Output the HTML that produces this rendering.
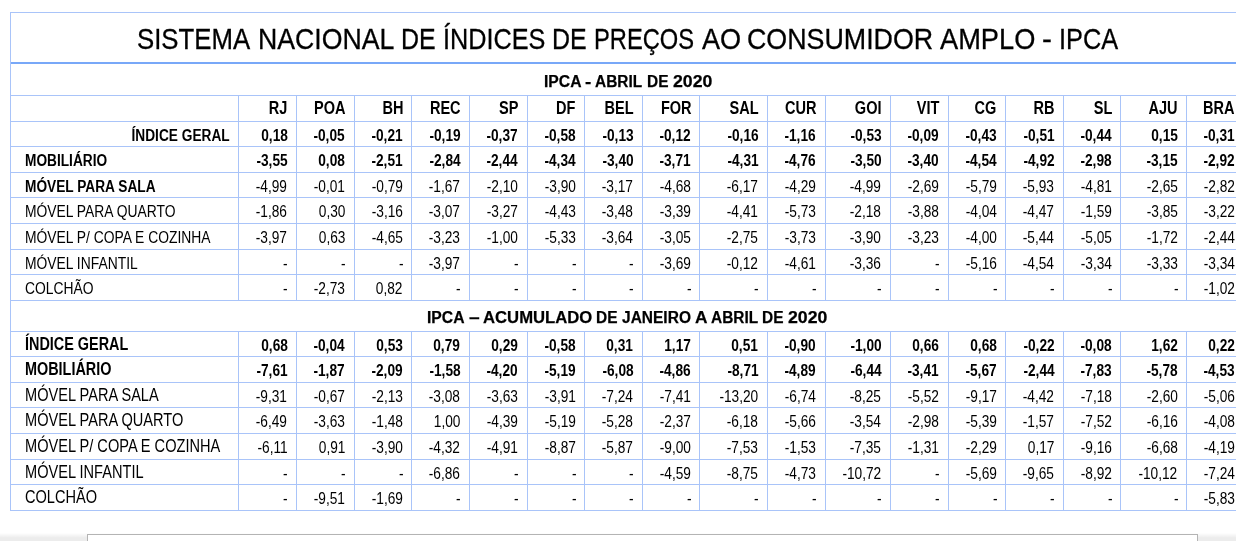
<!DOCTYPE html>
<html lang="pt-BR"><head><meta charset="utf-8"><title>IPCA</title>
<style>
html,body{margin:0;padding:0;background:#fff;}
body{width:1236px;height:541px;overflow:hidden;position:relative;font-family:"Liberation Sans",sans-serif;color:#000;}
.h,.v{position:absolute;background:#a9c4f9;}
.h{height:1px;left:10px;right:0;}
.v{width:1px;}
.t{position:absolute;white-space:nowrap;line-height:20px;height:20px;}
.l{transform-origin:0 50%;}
.r{transform-origin:100% 50%;text-align:right;}
.c{transform-origin:50% 50%;text-align:center;}
.n{font-size:16.67px;transform:scaleX(0.832);}
.nv{font-size:16.67px;transform:scaleX(0.822);}
.b{font-size:17.4px;font-weight:bold;transform:scaleX(0.787);}
.hb{font-size:18.3px;font-weight:bold;transform:scaleX(0.795);}
.n2{font-size:17.5px;transform:scaleX(0.833);}
.b2{font-size:18.0px;font-weight:bold;transform:scaleX(0.8005);}
.ws{position:absolute;left:0;width:1236px;height:0;white-space:nowrap;line-height:1;}
.ws span{position:absolute;top:0;transform-origin:0 50%;display:block;}
.title{font-size:29.5px;-webkit-text-stroke:0.3px #000;}
.sh{font-size:17.4px;font-weight:bold;-webkit-text-stroke:0.25px #000;}
</style></head><body>
<div class="h" style="top:12px"></div>
<div class="h" style="top:62px;height:2px;background:#78a8f8"></div>
<div class="h" style="top:95px"></div>
<div class="h" style="top:121px"></div>
<div class="h" style="top:146px"></div>
<div class="h" style="top:172px"></div>
<div class="h" style="top:197px"></div>
<div class="h" style="top:223px"></div>
<div class="h" style="top:249px"></div>
<div class="h" style="top:274px"></div>
<div class="h" style="top:300px"></div>
<div class="h" style="top:331px"></div>
<div class="h" style="top:356px"></div>
<div class="h" style="top:382px"></div>
<div class="h" style="top:407px"></div>
<div class="h" style="top:433px"></div>
<div class="h" style="top:459px"></div>
<div class="h" style="top:484px"></div>
<div class="h" style="top:510px"></div>
<div class="v" style="left:10px;top:12px;height:499px"></div>
<div class="v" style="left:238px;top:95px;height:205px"></div>
<div class="v" style="left:238px;top:331px;height:179px"></div>
<div class="v" style="left:296px;top:95px;height:205px"></div>
<div class="v" style="left:296px;top:331px;height:179px"></div>
<div class="v" style="left:354px;top:95px;height:205px"></div>
<div class="v" style="left:354px;top:331px;height:179px"></div>
<div class="v" style="left:411px;top:95px;height:205px"></div>
<div class="v" style="left:411px;top:331px;height:179px"></div>
<div class="v" style="left:469px;top:95px;height:205px"></div>
<div class="v" style="left:469px;top:331px;height:179px"></div>
<div class="v" style="left:527px;top:95px;height:205px"></div>
<div class="v" style="left:527px;top:331px;height:179px"></div>
<div class="v" style="left:584px;top:95px;height:205px"></div>
<div class="v" style="left:584px;top:331px;height:179px"></div>
<div class="v" style="left:642px;top:95px;height:205px"></div>
<div class="v" style="left:642px;top:331px;height:179px"></div>
<div class="v" style="left:699px;top:95px;height:205px"></div>
<div class="v" style="left:699px;top:331px;height:179px"></div>
<div class="v" style="left:767px;top:95px;height:205px"></div>
<div class="v" style="left:767px;top:331px;height:179px"></div>
<div class="v" style="left:825px;top:95px;height:205px"></div>
<div class="v" style="left:825px;top:331px;height:179px"></div>
<div class="v" style="left:890px;top:95px;height:205px"></div>
<div class="v" style="left:890px;top:331px;height:179px"></div>
<div class="v" style="left:948px;top:95px;height:205px"></div>
<div class="v" style="left:948px;top:331px;height:179px"></div>
<div class="v" style="left:1005px;top:95px;height:205px"></div>
<div class="v" style="left:1005px;top:331px;height:179px"></div>
<div class="v" style="left:1063px;top:95px;height:205px"></div>
<div class="v" style="left:1063px;top:331px;height:179px"></div>
<div class="v" style="left:1120px;top:95px;height:205px"></div>
<div class="v" style="left:1120px;top:331px;height:179px"></div>
<div class="v" style="left:1186px;top:95px;height:205px"></div>
<div class="v" style="left:1186px;top:331px;height:179px"></div>
<div style="position:absolute;left:0;top:533px;width:1236px;height:8px;background:linear-gradient(#fff,#ececec 60%)"></div>
<div style="position:absolute;left:87px;top:534px;width:1111px;height:10px;background:#fff;border:1px solid #b4b4b4;box-sizing:border-box"></div>
<div class="ws title" style="top:24px"><span style="left:137.34px;transform:scaleX(0.874)">SISTEMA</span> <span style="left:257.76px;transform:scaleX(0.9039)">NACIONAL</span> <span style="left:400.94px;transform:scaleX(0.8449)">DE</span> <span style="left:442.65px;transform:scaleX(0.8556)">ÍNDICES</span> <span style="left:552.25px;transform:scaleX(0.8449)">DE</span> <span style="left:594.49px;transform:scaleX(0.8033)">PREÇOS</span> <span style="left:701.8px;transform:scaleX(0.9175)">AO</span> <span style="left:747.37px;transform:scaleX(0.9088)">CONSUMIDOR</span> <span style="left:939.96px;transform:scaleX(0.9233)">AMPLO</span> <span style="left:1042.09px;transform:scaleX(1.0062)">-</span> <span style="left:1059.23px;transform:scaleX(0.8583)">IPCA</span></div>
<div class="ws sh" style="top:73px"><span style="left:543.98px;transform:scaleX(0.9025)">IPCA</span> <span style="left:585.26px;transform:scaleX(1.0878)">-</span> <span style="left:595.4px;transform:scaleX(0.8868)">ABRIL</span> <span style="left:646.81px;transform:scaleX(0.8879)">DE</span> <span style="left:672.75px;transform:scaleX(1.0177)">2020</span></div>
<div class="ws sh" style="top:309px"><span style="left:427.48px;transform:scaleX(0.9027)">IPCA</span> <span style="left:469.3px;transform:scaleX(1.1)">–</span> <span style="left:482.59px;transform:scaleX(0.9592)">ACUMULADO</span> <span style="left:596.19px;transform:scaleX(0.8881)">DE</span> <span style="left:621.95px;transform:scaleX(0.8919)">JANEIRO</span> <span style="left:694.77px;transform:scaleX(0.9952)">A</span> <span style="left:710.87px;transform:scaleX(0.887)">ABRIL</span> <span style="left:762.3px;transform:scaleX(0.8881)">DE</span> <span style="left:788.24px;transform:scaleX(1.0179)">2020</span></div>
<div class="t r hb" style="right:948.28px;top:98px">RJ</div>
<div class="t r hb" style="right:890.65px;top:98px">POA</div>
<div class="t r hb" style="right:833.03px;top:98px">BH</div>
<div class="t r hb" style="right:775.4px;top:98px">REC</div>
<div class="t r hb" style="right:717.77px;top:98px">SP</div>
<div class="t r hb" style="right:660.15px;top:98px">DF</div>
<div class="t r hb" style="right:602.52px;top:98px">BEL</div>
<div class="t r hb" style="right:544.9px;top:98px">FOR</div>
<div class="t r hb" style="right:477.37px;top:98px">SAL</div>
<div class="t r hb" style="right:419.75px;top:98px">CUR</div>
<div class="t r hb" style="right:354.36px;top:98px">GOI</div>
<div class="t r hb" style="right:296.73px;top:98px">VIT</div>
<div class="t r hb" style="right:239.11px;top:98px">CG</div>
<div class="t r hb" style="right:181.48px;top:98px">RB</div>
<div class="t r hb" style="right:123.86px;top:98px">SL</div>
<div class="t r hb" style="right:58.13px;top:98px">AJU</div>
<div class="t r hb" style="right:1.0px;top:98px">BRA</div>
<div class="t r b" style="right:1006px;top:125px">ÍNDICE GERAL</div>
<div class="t r b" style="right:948.58px;top:125px">0,18</div>
<div class="t r b" style="right:890.95px;top:125px">-0,05</div>
<div class="t r b" style="right:833.33px;top:125px">-0,21</div>
<div class="t r b" style="right:775.7px;top:125px">-0,19</div>
<div class="t r b" style="right:718.08px;top:125px">-0,37</div>
<div class="t r b" style="right:660.45px;top:125px">-0,58</div>
<div class="t r b" style="right:602.83px;top:125px">-0,13</div>
<div class="t r b" style="right:545.2px;top:125px">-0,12</div>
<div class="t r b" style="right:477.67px;top:125px">-0,16</div>
<div class="t r b" style="right:420.05px;top:125px">-1,16</div>
<div class="t r b" style="right:354.66px;top:125px">-0,53</div>
<div class="t r b" style="right:297.03px;top:125px">-0,09</div>
<div class="t r b" style="right:239.41px;top:125px">-0,43</div>
<div class="t r b" style="right:181.78px;top:125px">-0,51</div>
<div class="t r b" style="right:124.16px;top:125px">-0,44</div>
<div class="t r b" style="right:58.43px;top:125px">0,15</div>
<div class="t r b" style="right:1.3px;top:125px">-0,31</div>
<div class="t l b" style="left:25px;top:150px">MOBILIÁRIO</div>
<div class="t r b" style="right:948.58px;top:150px">-3,55</div>
<div class="t r b" style="right:890.95px;top:150px">0,08</div>
<div class="t r b" style="right:833.33px;top:150px">-2,51</div>
<div class="t r b" style="right:775.7px;top:150px">-2,84</div>
<div class="t r b" style="right:718.08px;top:150px">-2,44</div>
<div class="t r b" style="right:660.45px;top:150px">-4,34</div>
<div class="t r b" style="right:602.83px;top:150px">-3,40</div>
<div class="t r b" style="right:545.2px;top:150px">-3,71</div>
<div class="t r b" style="right:477.67px;top:150px">-4,31</div>
<div class="t r b" style="right:420.05px;top:150px">-4,76</div>
<div class="t r b" style="right:354.66px;top:150px">-3,50</div>
<div class="t r b" style="right:297.03px;top:150px">-3,40</div>
<div class="t r b" style="right:239.41px;top:150px">-4,54</div>
<div class="t r b" style="right:181.78px;top:150px">-4,92</div>
<div class="t r b" style="right:124.16px;top:150px">-2,98</div>
<div class="t r b" style="right:58.43px;top:150px">-3,15</div>
<div class="t r b" style="right:1.3px;top:150px">-2,92</div>
<div class="t l b" style="left:25px;top:176px">MÓVEL PARA SALA</div>
<div class="t r nv" style="right:948.58px;top:177px">-4,99</div>
<div class="t r nv" style="right:890.95px;top:177px">-0,01</div>
<div class="t r nv" style="right:833.33px;top:177px">-0,79</div>
<div class="t r nv" style="right:775.7px;top:177px">-1,67</div>
<div class="t r nv" style="right:718.08px;top:177px">-2,10</div>
<div class="t r nv" style="right:660.45px;top:177px">-3,90</div>
<div class="t r nv" style="right:602.83px;top:177px">-3,17</div>
<div class="t r nv" style="right:545.2px;top:177px">-4,68</div>
<div class="t r nv" style="right:477.67px;top:177px">-6,17</div>
<div class="t r nv" style="right:420.05px;top:177px">-4,29</div>
<div class="t r nv" style="right:354.66px;top:177px">-4,99</div>
<div class="t r nv" style="right:297.03px;top:177px">-2,69</div>
<div class="t r nv" style="right:239.41px;top:177px">-5,79</div>
<div class="t r nv" style="right:181.78px;top:177px">-5,93</div>
<div class="t r nv" style="right:124.16px;top:177px">-4,81</div>
<div class="t r nv" style="right:58.43px;top:177px">-2,65</div>
<div class="t r nv" style="right:1.3px;top:177px">-2,82</div>
<div class="t l n" style="left:25px;top:202px">MÓVEL PARA QUARTO</div>
<div class="t r nv" style="right:948.58px;top:202px">-1,86</div>
<div class="t r nv" style="right:890.95px;top:202px">0,30</div>
<div class="t r nv" style="right:833.33px;top:202px">-3,16</div>
<div class="t r nv" style="right:775.7px;top:202px">-3,07</div>
<div class="t r nv" style="right:718.08px;top:202px">-3,27</div>
<div class="t r nv" style="right:660.45px;top:202px">-4,43</div>
<div class="t r nv" style="right:602.83px;top:202px">-3,48</div>
<div class="t r nv" style="right:545.2px;top:202px">-3,39</div>
<div class="t r nv" style="right:477.67px;top:202px">-4,41</div>
<div class="t r nv" style="right:420.05px;top:202px">-5,73</div>
<div class="t r nv" style="right:354.66px;top:202px">-2,18</div>
<div class="t r nv" style="right:297.03px;top:202px">-3,88</div>
<div class="t r nv" style="right:239.41px;top:202px">-4,04</div>
<div class="t r nv" style="right:181.78px;top:202px">-4,47</div>
<div class="t r nv" style="right:124.16px;top:202px">-1,59</div>
<div class="t r nv" style="right:58.43px;top:202px">-3,85</div>
<div class="t r nv" style="right:1.3px;top:202px">-3,22</div>
<div class="t l n" style="left:25px;top:228px">MÓVEL P/ COPA E COZINHA</div>
<div class="t r nv" style="right:948.58px;top:228px">-3,97</div>
<div class="t r nv" style="right:890.95px;top:228px">0,63</div>
<div class="t r nv" style="right:833.33px;top:228px">-4,65</div>
<div class="t r nv" style="right:775.7px;top:228px">-3,23</div>
<div class="t r nv" style="right:718.08px;top:228px">-1,00</div>
<div class="t r nv" style="right:660.45px;top:228px">-5,33</div>
<div class="t r nv" style="right:602.83px;top:228px">-3,64</div>
<div class="t r nv" style="right:545.2px;top:228px">-3,05</div>
<div class="t r nv" style="right:477.67px;top:228px">-2,75</div>
<div class="t r nv" style="right:420.05px;top:228px">-3,73</div>
<div class="t r nv" style="right:354.66px;top:228px">-3,90</div>
<div class="t r nv" style="right:297.03px;top:228px">-3,23</div>
<div class="t r nv" style="right:239.41px;top:228px">-4,00</div>
<div class="t r nv" style="right:181.78px;top:228px">-5,44</div>
<div class="t r nv" style="right:124.16px;top:228px">-5,05</div>
<div class="t r nv" style="right:58.43px;top:228px">-1,72</div>
<div class="t r nv" style="right:1.3px;top:228px">-2,44</div>
<div class="t l n" style="left:25px;top:254px">MÓVEL INFANTIL</div>
<div class="t r nv" style="right:948.08px;top:254px">-</div>
<div class="t r nv" style="right:890.45px;top:254px">-</div>
<div class="t r nv" style="right:832.83px;top:254px">-</div>
<div class="t r nv" style="right:775.7px;top:254px">-3,97</div>
<div class="t r nv" style="right:717.58px;top:254px">-</div>
<div class="t r nv" style="right:659.95px;top:254px">-</div>
<div class="t r nv" style="right:602.33px;top:254px">-</div>
<div class="t r nv" style="right:545.2px;top:254px">-3,69</div>
<div class="t r nv" style="right:477.67px;top:254px">-0,12</div>
<div class="t r nv" style="right:420.05px;top:254px">-4,61</div>
<div class="t r nv" style="right:354.66px;top:254px">-3,36</div>
<div class="t r nv" style="right:296.53px;top:254px">-</div>
<div class="t r nv" style="right:239.41px;top:254px">-5,16</div>
<div class="t r nv" style="right:181.78px;top:254px">-4,54</div>
<div class="t r nv" style="right:124.16px;top:254px">-3,34</div>
<div class="t r nv" style="right:58.43px;top:254px">-3,33</div>
<div class="t r nv" style="right:1.3px;top:254px">-3,34</div>
<div class="t l n" style="left:25px;top:279px">COLCHÃO</div>
<div class="t r nv" style="right:948.08px;top:279px">-</div>
<div class="t r nv" style="right:890.95px;top:279px">-2,73</div>
<div class="t r nv" style="right:833.33px;top:279px">0,82</div>
<div class="t r nv" style="right:775.2px;top:279px">-</div>
<div class="t r nv" style="right:717.58px;top:279px">-</div>
<div class="t r nv" style="right:659.95px;top:279px">-</div>
<div class="t r nv" style="right:602.33px;top:279px">-</div>
<div class="t r nv" style="right:544.7px;top:279px">-</div>
<div class="t r nv" style="right:477.17px;top:279px">-</div>
<div class="t r nv" style="right:419.55px;top:279px">-</div>
<div class="t r nv" style="right:354.16px;top:279px">-</div>
<div class="t r nv" style="right:296.53px;top:279px">-</div>
<div class="t r nv" style="right:238.91px;top:279px">-</div>
<div class="t r nv" style="right:181.28px;top:279px">-</div>
<div class="t r nv" style="right:123.66px;top:279px">-</div>
<div class="t r nv" style="right:57.93px;top:279px">-</div>
<div class="t r nv" style="right:1.3px;top:279px">-1,02</div>
<div class="t l b2" style="left:25px;top:334px">ÍNDICE GERAL</div>
<div class="t r b" style="right:948.58px;top:335px">0,68</div>
<div class="t r b" style="right:890.95px;top:335px">-0,04</div>
<div class="t r b" style="right:833.33px;top:335px">0,53</div>
<div class="t r b" style="right:775.7px;top:335px">0,79</div>
<div class="t r b" style="right:718.08px;top:335px">0,29</div>
<div class="t r b" style="right:660.45px;top:335px">-0,58</div>
<div class="t r b" style="right:602.83px;top:335px">0,31</div>
<div class="t r b" style="right:545.2px;top:335px">1,17</div>
<div class="t r b" style="right:477.67px;top:335px">0,51</div>
<div class="t r b" style="right:420.05px;top:335px">-0,90</div>
<div class="t r b" style="right:354.66px;top:335px">-1,00</div>
<div class="t r b" style="right:297.03px;top:335px">0,66</div>
<div class="t r b" style="right:239.41px;top:335px">0,68</div>
<div class="t r b" style="right:181.78px;top:335px">-0,22</div>
<div class="t r b" style="right:124.16px;top:335px">-0,08</div>
<div class="t r b" style="right:58.43px;top:335px">1,62</div>
<div class="t r b" style="right:1.3px;top:335px">0,22</div>
<div class="t l b2" style="left:25px;top:359px">MOBILIÁRIO</div>
<div class="t r b" style="right:948.58px;top:360px">-7,61</div>
<div class="t r b" style="right:890.95px;top:360px">-1,87</div>
<div class="t r b" style="right:833.33px;top:360px">-2,09</div>
<div class="t r b" style="right:775.7px;top:360px">-1,58</div>
<div class="t r b" style="right:718.08px;top:360px">-4,20</div>
<div class="t r b" style="right:660.45px;top:360px">-5,19</div>
<div class="t r b" style="right:602.83px;top:360px">-6,08</div>
<div class="t r b" style="right:545.2px;top:360px">-4,86</div>
<div class="t r b" style="right:477.67px;top:360px">-8,71</div>
<div class="t r b" style="right:420.05px;top:360px">-4,89</div>
<div class="t r b" style="right:354.66px;top:360px">-6,44</div>
<div class="t r b" style="right:297.03px;top:360px">-3,41</div>
<div class="t r b" style="right:239.41px;top:360px">-5,67</div>
<div class="t r b" style="right:181.78px;top:360px">-2,44</div>
<div class="t r b" style="right:124.16px;top:360px">-7,83</div>
<div class="t r b" style="right:58.43px;top:360px">-5,78</div>
<div class="t r b" style="right:1.3px;top:360px">-4,53</div>
<div class="t l n2" style="left:25px;top:385px">MÓVEL PARA SALA</div>
<div class="t r nv" style="right:948.58px;top:387px">-9,31</div>
<div class="t r nv" style="right:890.95px;top:387px">-0,67</div>
<div class="t r nv" style="right:833.33px;top:387px">-2,13</div>
<div class="t r nv" style="right:775.7px;top:387px">-3,08</div>
<div class="t r nv" style="right:718.08px;top:387px">-3,63</div>
<div class="t r nv" style="right:660.45px;top:387px">-3,91</div>
<div class="t r nv" style="right:602.83px;top:387px">-7,24</div>
<div class="t r nv" style="right:545.2px;top:387px">-7,41</div>
<div class="t r nv" style="right:477.67px;top:387px">-13,20</div>
<div class="t r nv" style="right:420.05px;top:387px">-6,74</div>
<div class="t r nv" style="right:354.66px;top:387px">-8,25</div>
<div class="t r nv" style="right:297.03px;top:387px">-5,52</div>
<div class="t r nv" style="right:239.41px;top:387px">-9,17</div>
<div class="t r nv" style="right:181.78px;top:387px">-4,42</div>
<div class="t r nv" style="right:124.16px;top:387px">-7,18</div>
<div class="t r nv" style="right:58.43px;top:387px">-2,60</div>
<div class="t r nv" style="right:1.3px;top:387px">-5,06</div>
<div class="t l n2" style="left:25px;top:410px">MÓVEL PARA QUARTO</div>
<div class="t r nv" style="right:948.58px;top:412px">-6,49</div>
<div class="t r nv" style="right:890.95px;top:412px">-3,63</div>
<div class="t r nv" style="right:833.33px;top:412px">-1,48</div>
<div class="t r nv" style="right:775.7px;top:412px">1,00</div>
<div class="t r nv" style="right:718.08px;top:412px">-4,39</div>
<div class="t r nv" style="right:660.45px;top:412px">-5,19</div>
<div class="t r nv" style="right:602.83px;top:412px">-5,28</div>
<div class="t r nv" style="right:545.2px;top:412px">-2,37</div>
<div class="t r nv" style="right:477.67px;top:412px">-6,18</div>
<div class="t r nv" style="right:420.05px;top:412px">-5,66</div>
<div class="t r nv" style="right:354.66px;top:412px">-3,54</div>
<div class="t r nv" style="right:297.03px;top:412px">-2,98</div>
<div class="t r nv" style="right:239.41px;top:412px">-5,39</div>
<div class="t r nv" style="right:181.78px;top:412px">-1,57</div>
<div class="t r nv" style="right:124.16px;top:412px">-7,52</div>
<div class="t r nv" style="right:58.43px;top:412px">-6,16</div>
<div class="t r nv" style="right:1.3px;top:412px">-4,08</div>
<div class="t l n2" style="left:25px;top:436px">MÓVEL P/ COPA E COZINHA</div>
<div class="t r nv" style="right:948.58px;top:438px">-6,11</div>
<div class="t r nv" style="right:890.95px;top:438px">0,91</div>
<div class="t r nv" style="right:833.33px;top:438px">-3,90</div>
<div class="t r nv" style="right:775.7px;top:438px">-4,32</div>
<div class="t r nv" style="right:718.08px;top:438px">-4,91</div>
<div class="t r nv" style="right:660.45px;top:438px">-8,87</div>
<div class="t r nv" style="right:602.83px;top:438px">-5,87</div>
<div class="t r nv" style="right:545.2px;top:438px">-9,00</div>
<div class="t r nv" style="right:477.67px;top:438px">-7,53</div>
<div class="t r nv" style="right:420.05px;top:438px">-1,53</div>
<div class="t r nv" style="right:354.66px;top:438px">-7,35</div>
<div class="t r nv" style="right:297.03px;top:438px">-1,31</div>
<div class="t r nv" style="right:239.41px;top:438px">-2,29</div>
<div class="t r nv" style="right:181.78px;top:438px">0,17</div>
<div class="t r nv" style="right:124.16px;top:438px">-9,16</div>
<div class="t r nv" style="right:58.43px;top:438px">-6,68</div>
<div class="t r nv" style="right:1.3px;top:438px">-4,19</div>
<div class="t l n2" style="left:25px;top:462px">MÓVEL INFANTIL</div>
<div class="t r nv" style="right:948.08px;top:464px">-</div>
<div class="t r nv" style="right:890.45px;top:464px">-</div>
<div class="t r nv" style="right:832.83px;top:464px">-</div>
<div class="t r nv" style="right:775.7px;top:464px">-6,86</div>
<div class="t r nv" style="right:717.58px;top:464px">-</div>
<div class="t r nv" style="right:659.95px;top:464px">-</div>
<div class="t r nv" style="right:602.33px;top:464px">-</div>
<div class="t r nv" style="right:545.2px;top:464px">-4,59</div>
<div class="t r nv" style="right:477.67px;top:464px">-8,75</div>
<div class="t r nv" style="right:420.05px;top:464px">-4,73</div>
<div class="t r nv" style="right:354.66px;top:464px">-10,72</div>
<div class="t r nv" style="right:296.53px;top:464px">-</div>
<div class="t r nv" style="right:239.41px;top:464px">-5,69</div>
<div class="t r nv" style="right:181.78px;top:464px">-9,65</div>
<div class="t r nv" style="right:124.16px;top:464px">-8,92</div>
<div class="t r nv" style="right:58.43px;top:464px">-10,12</div>
<div class="t r nv" style="right:1.3px;top:464px">-7,24</div>
<div class="t l n2" style="left:25px;top:487px">COLCHÃO</div>
<div class="t r nv" style="right:948.08px;top:489px">-</div>
<div class="t r nv" style="right:890.95px;top:489px">-9,51</div>
<div class="t r nv" style="right:833.33px;top:489px">-1,69</div>
<div class="t r nv" style="right:775.2px;top:489px">-</div>
<div class="t r nv" style="right:717.58px;top:489px">-</div>
<div class="t r nv" style="right:659.95px;top:489px">-</div>
<div class="t r nv" style="right:602.33px;top:489px">-</div>
<div class="t r nv" style="right:544.7px;top:489px">-</div>
<div class="t r nv" style="right:477.17px;top:489px">-</div>
<div class="t r nv" style="right:419.55px;top:489px">-</div>
<div class="t r nv" style="right:354.16px;top:489px">-</div>
<div class="t r nv" style="right:296.53px;top:489px">-</div>
<div class="t r nv" style="right:238.91px;top:489px">-</div>
<div class="t r nv" style="right:181.28px;top:489px">-</div>
<div class="t r nv" style="right:123.66px;top:489px">-</div>
<div class="t r nv" style="right:57.93px;top:489px">-</div>
<div class="t r nv" style="right:1.3px;top:489px">-5,83</div>
</body></html>
